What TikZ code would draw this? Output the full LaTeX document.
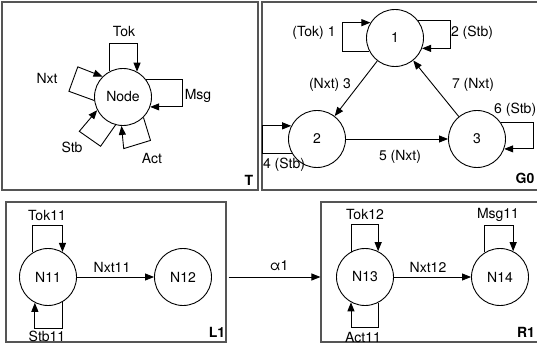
\documentclass[tikz,border=0pt]{standalone}
\usepackage{fontspec}
\setmainfont{TeX Gyre Heros}
\usepackage{tikz}
\usetikzlibrary{positioning,arrows.meta,calc}
\definecolor{pgray}{HTML}{555555}

\begin{document}
\begin{tikzpicture}[x=1pt, y=-1pt,
  state/.style={circle, draw, line width=0.9pt, minimum size=57pt, inner sep=0pt,
    font=\fontsize{14}{16}\selectfont},
  panel/.style={rectangle, draw=pgray, line width=1.1pt, inner sep=0pt},
  arr/.style={-{Triangle[length=9pt,width=7pt]}, line width=0.9pt},
  lbl/.style={font=\fontsize{14}{16}\selectfont, inner sep=0pt},
  tag/.style={font=\fontsize{14}{16}\selectfont\bfseries, inner sep=0pt}
]
\useasboundingbox (0,0) rectangle (537,352);

% panels
\node[panel, minimum width=256pt, minimum height=188pt] (Tbox) at (130,96) {};
\node[panel, minimum width=278pt, minimum height=188pt] (G0box) at (401,96) {};
\node[panel, minimum width=220pt, minimum height=140pt] (L1box) at (116,272) {};
\node[panel, minimum width=220pt, minimum height=140pt] (R1box) at (431,272) {};

% T: type graph
\node[state] (nd) at (123,97) {Node};
\draw[arr] (nd.117) -- ++(0,-28) -| (nd.61);
\draw[arr] (nd.38) -- ++(37,0) |- (nd.-20);
\draw[arr] (nd.187) -- ++(-160:27) -- ++(-70:26) -- (nd.135);
\draw[arr] (nd.255) -- ++(-235:26) -- ++(-145:26) -- (nd.207);
\draw[arr] (nd.315) -- ++(-287:24) -- ++(-197:28) -- (nd.267);
\node[lbl] (tTok) at (124,32) {Tok};
\node[lbl] (tMsg) at (198,96) {Msg};
\node[lbl] (tNxt) at (47,78) {Nxt};
\node[lbl] (tStb) at (72,147) {Stb};
\node[lbl] (tAct) at (152,159) {Act};
\node[tag] (tT) at (249,180) {T};

% G0: start graph
\node[state] (n1) at (395,38) {1};
\node[state] (n2) at (317,139) {2};
\node[state] (n3) at (477,139) {3};
\draw[arr] (n1) -- (n2);
\draw[arr] (n2) -- (n3);
\draw[arr] (n3) -- (n1);
\draw[arr] (n1.207) -- ++(-27,0) |- (n1.148);
\draw[arr] (n1.37) -- ++(32,0) |- (n1.-21);
\draw[arr] (n2.209) -- ++(-29,0) |- (n2.153);
\draw[arr] (n3.34) -- ++(32,0) |- (n3.-20);
\node[lbl] (gE1) at (314,33) {(Tok) 1};
\node[lbl] (gE2) at (472,33) {2 (Stb)};
\node[lbl] (gE3) at (330,85) {(Nxt) 3};
\node[lbl] (gE4) at (284,165) {4 (Stb)};
\node[lbl] (gE5) at (400,157) {5 (Nxt)};
\node[lbl, anchor=west] (gE6) at (494,110) {6 (Stb)};
\node[lbl] (gE7) at (473,85) {7 (Nxt)};
\node[tag] (gG0) at (525,178) {G0};

% L1: left-hand side
\node[state] (N11) at (48,277) {N11};
\node[state] (N12) at (183,277) {N12};
\draw[arr] (N11) -- (N12);
\draw[arr] (N11.122) -- ++(0,-27) -| (N11.60);
\draw[arr] (N11.-61) -- ++(0,26) -| (N11.-117);
\node[lbl] (lTok) at (47,216) {Tok11};
\node[lbl] (lNxt) at (112,267) {Nxt11};
\node[lbl] (lStb) at (47,336) {Stb11};
\node[tag] (lL1) at (217,332) {L1};

% R1: right-hand side
\node[state] (N13) at (365,277) {N13};
\node[state] (N14) at (500,277) {N14};
\draw[arr] (N13) -- (N14);
\draw[arr] (N13.119) -- ++(0,-27) -| (N13.63);
\draw[arr] (N13.-63) -- ++(0,25) -| (N13.-119);
\draw[arr] (N14.122) -- ++(0,-27) -| (N14.63);
\node[lbl] (rTok) at (365,215) {Tok12};
\node[lbl] (rNxt) at (428,267) {Nxt12};
\node[lbl] (rAct) at (363,337) {Act11};
\node[lbl] (rMsg) at (498,215) {Msg11};
\node[tag] (rR1) at (526,332) {R1};

% rule
\draw[arr] ([xshift=2pt]L1box.east |- N12) -- (R1box.west |- N13)
  node[lbl, pos=0.55, above=6pt] (alpha) {α1};
\end{tikzpicture}
\end{document}
